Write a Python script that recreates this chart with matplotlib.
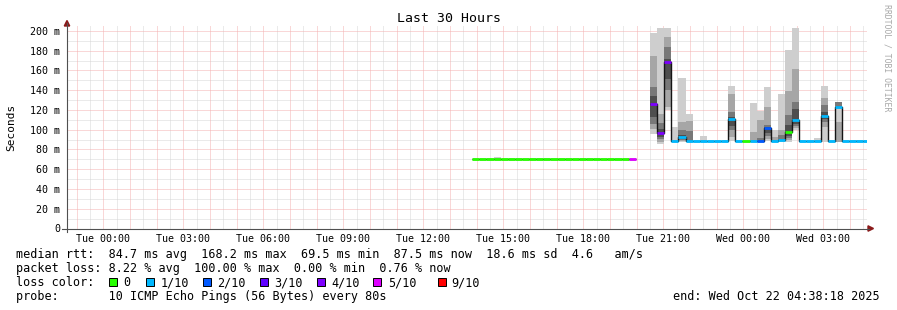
import numpy as np
import matplotlib
matplotlib.use("Agg")
import matplotlib.pyplot as plt
from matplotlib.lines import Line2D
from matplotlib.patches import Polygon, Rectangle

W, H = 897, 310
MONO = "DejaVu Sans Mono"
N = None

# ---------------- data ----------------
# time axis: hours after Tue 00:00
x_start_hour = -(1 + 21 / 60 + 42 / 3600)      # Mon 22:38:18
x_end_hour = 24 + 4 + 38 / 60 + 18 / 3600      # Wed 04:38:18
tick_hours = [0, 3, 6, 9, 12, 15, 18, 21, 24, 27]
tick_labels = ["Tue 00:00", "Tue 03:00", "Tue 06:00", "Tue 09:00", "Tue 12:00",
               "Tue 15:00", "Tue 18:00", "Tue 21:00", "Wed 00:00", "Wed 03:00"]

bin_start_hour = 13 + 50 / 60   # first data bin: Tue 13:50
bin_minutes = 16

median_ms = [70.4, 70.5, 70.4, 70.3, 70.4, 70.4, 70.5, 70.4, 70.4, 70.3, 70.4,
             70.4, 70.5, 70.4, 70.4, 70.4, 70.3, 70.4, 70.4, 70.5, 70.4, 70.4,
             70.4, N, N,
             125.7, 96.8, 168.6, 88.3, 92.3, 89.0, 88.3, 88.2, 88.3, 88.3, 88.2,
             111.0, 88.3, 88.3, 88.2, 88.3, 101.8, 88.2, 90.0, 97.3, 109.8, 88.3,
             88.3, 88.2, 114.0, 88.3, 123.5, 88.3, 88.2, 88.3, 88.3]
loss_pings = [0, 0, 0, 0, 0, 0, 0, 0, 0, 0, 0, 0, 0, 0, 0, 0, 0, 0, 0, 0, 0, 0,
              5, N, N,
              4, 4, 4, 1, 1, 1, 1, 1, 1, 1, 1, 1, 1, 0, 1, 2, 2, 1, 1, 0, 1,
              1, 1, 1, 1, 1, 1, 1, 1, 1, 1]

E25 = [N] * 25
smoke_outer_lo = E25[:3] + [70.0] + E25[4:] + [
    95.7, 85.7, 120, 87.5, 88, 88, 87.5, 87.5, N, N, N, 89, N, N, 88, 87.5,
    89, 88, 88, 88, 100, N, N, 87.5, 88, N, 87.5, N, N, 87.5, N]
smoke_outer_hi = E25[:3] + [72.5] + E25[4:] + [
    198, 202.7, 203, 102.5, 152.5, 116, 89, 94, N, N, N, 144.5, N, N, 127, 119.3,
    143.6, 99.7, 136, 180.8, 203, N, N, 91.5, 144.3, N, 128, N, N, 89.6, N]
smoke_mid_lo = E25 + [
    100.8, 88, 123, N, 89, 88.5, N, N, N, N, N, 93, N, N, 88, 88,
    91, 88, 88.5, 90, 102, N, N, N, 103, N, 87.5, N, N, N, N]
smoke_mid_hi = E25 + [
    175, 116, 194, N, 108, 109, N, N, N, N, N, 136, N, N, 97.5, 110,
    122.7, 93, 99.5, 139, 161, N, N, N, 132, N, 107.5, N, N, N, N]
smoke_inner_lo = E25 + [
    105.8, 91, 140, N, 90, 89, N, N, N, N, N, 100, N, N, N, 88,
    94, N, 89, 92, 104, N, N, N, 108, N, 121.5, N, N, N, N]
smoke_inner_hi = E25 + [
    143, 106.5, 184, N, 100, 99, N, N, N, N, N, 118, N, N, N, 92,
    105, N, 95, 115, 128, N, N, N, 125, N, 128, N, N, N, N]
smoke_core_lo = E25 + [
    112.6, 93, 151, N, 91, N, N, N, N, N, N, 104, N, N, N, N,
    97, N, N, 94, 106, N, N, N, 111, N, N, N, N, N, N]
smoke_core_hi = E25 + [
    134.5, 101, 172, N, 95, N, N, N, N, N, N, 113, N, N, N, N,
    103, N, N, 105, 121, N, N, N, 118, N, N, N, N, N, N]

loss_levels = [0, 1, 2, 3, 4, 5, 9]
loss_names = ["0", "1/10", "2/10", "3/10", "4/10", "5/10", "9/10"]
loss_colors = ["#26ff00", "#00b8ff", "#0059ff", "#5e00ff", "#7e00ff", "#dd00ff", "#ff0000"]

y_ticks = [0, 20, 40, 60, 80, 100, 120, 140, 160, 180, 200]
y_tick_labels = ["0", "20 m", "40 m", "60 m", "80 m", "100 m", "120 m", "140 m",
                 "160 m", "180 m", "200 m"]

legend_lines = [
    "median rtt:  84.7 ms avg  168.2 ms max  69.5 ms min  87.5 ms now  18.6 ms sd  4.6   am/s",
    "packet loss: 8.22 % avg  100.00 % max  0.00 % min  0.76 % now",
    "loss color:",
    "probe:       10 ICMP Echo Pings (56 Bytes) every 80s",
]
end_text = "end: Wed Oct 22 04:38:18 2025"
title = "Last 30 Hours"

# ---------------- figure ----------------
fig = plt.figure(figsize=(W / 100, H / 100), dpi=100)
fig.patch.set_facecolor("white")
ax_left, ax_right, ax_top, ax_bot = 67, 867, 26, 228.5
ax = fig.add_axes([ax_left / W, 1 - ax_bot / H, (ax_right - ax_left) / W, (ax_bot - ax_top) / H])
ax.set_xlim(x_start_hour, x_end_hour)
ax.set_ylim(0, 205)
for s in ax.spines.values():
    s.set_visible(False)

# grid (1px on / 1px off dotted)
minor_c, major_c = "#d6d6d6", "#f5b0b0"
dash = (0, (1, 1))
for m in range(10, 205, 10):
    major = m % 20 == 0
    ax.axhline(m, color=major_c if major else minor_c, lw=0.72, ls=dash,
               zorder=1.5 if major else 1)
h = np.ceil(x_start_hour * 2) / 2
while h < x_end_hour:
    major = abs(h - round(h)) < 1e-6
    ax.axvline(h, color=major_c if major else minor_c, lw=0.72, ls=dash,
               zorder=1.5 if major else 1)
    h += 0.5

bw = bin_minutes / 60
n = len(median_ms)
edges = bin_start_hour + np.arange(n + 1) * bw

# smoke
layers = [(smoke_outer_lo, smoke_outer_hi, "#cecece"),
          (smoke_mid_lo, smoke_mid_hi, "#a6a6a6"),
          (smoke_inner_lo, smoke_inner_hi, "#787878"),
          (smoke_core_lo, smoke_core_hi, "#4e4e4e")]
for lo, hi, col in layers:
    for i in range(n):
        if lo[i] is None or hi[i] is None:
            continue
        ax.bar(edges[i], hi[i] - lo[i], bottom=lo[i], width=bw, align="edge",
               color=col, linewidth=0, zorder=2)

# median black step line
med = np.array([np.nan if v is None else v for v in median_ms], dtype=float)
xs = np.repeat(edges, 2)[1:-1]
ys = np.repeat(med, 2)
ax.plot(xs, ys, color="#151515", lw=1.0, zorder=3, solid_capstyle="butt")

# colored median per loss
def loss_color(lp):
    c = loss_colors[0]
    for lv, col in zip(loss_levels, loss_colors):
        if lp >= lv:
            c = col
    return c

for i in range(n):
    if median_ms[i] is None:
        continue
    ax.hlines(median_ms[i], edges[i], edges[i + 1], color=loss_color(loss_pings[i]),
              lw=2.0, zorder=4, capstyle="butt")

# ticks
ax.set_xticks(tick_hours)
ax.set_xticklabels(tick_labels, family=MONO, fontsize=7.2)
ax.set_yticks(y_ticks)
ax.set_yticklabels(y_tick_labels, family=MONO, fontsize=7.2)
ax.tick_params(axis="x", length=0, pad=4)
ax.tick_params(axis="y", length=0, pad=5)

# axes lines + arrows (pixel coords)
def P(x, y):
    return (x / W, 1 - y / H)

axis_c = "#505050"
fig.add_artist(Line2D([62 / W, 869 / W], [1 - 228.5 / H] * 2, color=axis_c, lw=0.8, transform=fig.transFigure))
fig.add_artist(Line2D([67 / W] * 2, [1 - 232 / H, 1 - 23 / H], color=axis_c, lw=0.8, transform=fig.transFigure))
arrow_c = "#8b1a1a"
fig.add_artist(Polygon([P(64.3, 26), P(69.7, 26), P(67, 20.5)], closed=True, color=arrow_c, transform=fig.transFigure))
fig.add_artist(Polygon([P(868, 225.8), P(868, 231.2), P(873.5, 228.5)], closed=True, color=arrow_c, transform=fig.transFigure))

# title, y label, watermark
fig.text(448.5 / W, 1 - 19 / H, title, ha="center", va="center", family=MONO, fontsize=9.5)
fig.text(11 / W, 1 - 127 / H, "Seconds", ha="center", va="center", rotation=90, family=MONO, fontsize=8)
fig.text(887 / W, 1 - 4 / H, "RRDTOOL / TOBI OETIKER", ha="center", va="top", rotation=-90,
         family=MONO, fontsize=5.9, color="#a8a8a8")

# legend
line_y = [254.3, 268.3, 282.7, 296.7]
for txt, y in zip(legend_lines, line_y):
    fig.text(16 / W, 1 - y / H, txt, ha="left", va="center", family=MONO, fontsize=8.5)
fig.text(880 / W, 1 - line_y[3] / H, end_text, ha="right", va="center", family=MONO, fontsize=8.5)

box_x = [108.7, 145.7, 202.7, 260.0, 316.7, 373.3, 437.5]
text_x = [123.3, 160.7, 217.3, 274.3, 331.7, 388.3, 451.0]
for bx, tx, name, col in zip(box_x, text_x, loss_names, loss_colors):
    fig.add_artist(Rectangle((bx / W, 1 - 286 / H), 8 / W, 8 / H, transform=fig.transFigure,
                             facecolor=col, edgecolor="black", lw=0.7))
    fig.text(tx / W, 1 - line_y[2] / H, name, ha="left", va="center", family=MONO, fontsize=8.5)

fig.savefig("out.png", dpi=100, facecolor="white")
